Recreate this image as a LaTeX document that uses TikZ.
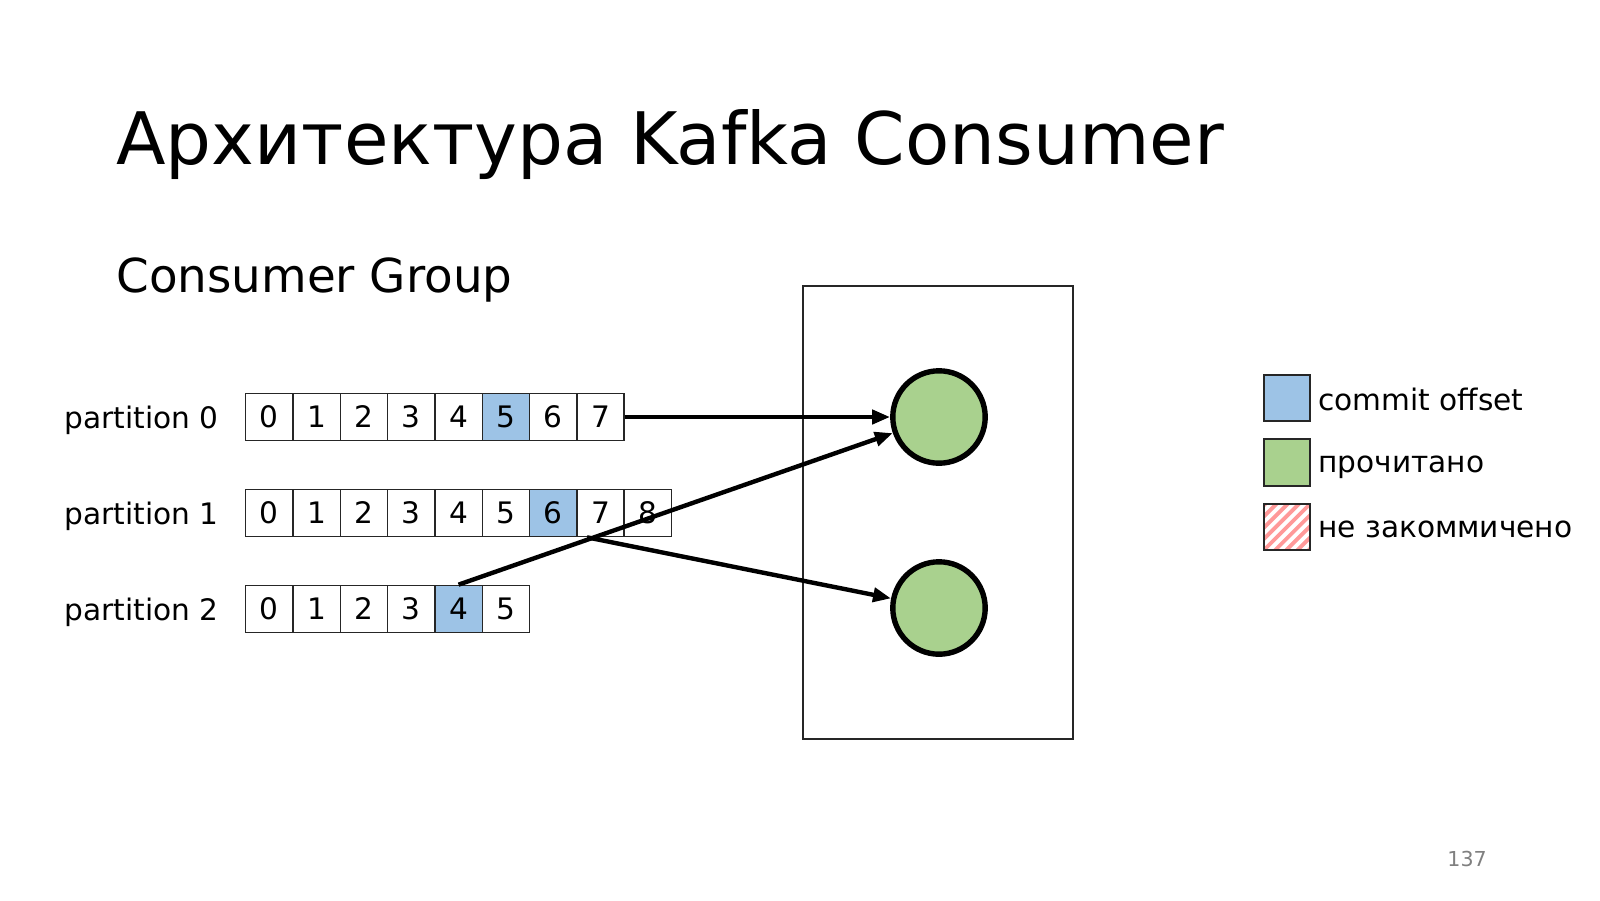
\documentclass[tikz,border=0pt]{standalone}
\usepackage{fontspec}
\setmainfont{DejaVu Sans}
\usetikzlibrary{arrows.meta}
\definecolor{commitblue}{HTML}{9DC3E6}
\definecolor{readgreen}{HTML}{A9D18E}
\definecolor{stripered}{HTML}{FF9999}
\begin{document}
\begin{tikzpicture}[x=.5pt,y=-.5pt,
 cell/.style={draw=black!85,line width=.7pt,minimum size=23.65pt,inner sep=0pt,font=\fontsize{14.8}{16}\selectfont},
 txt/.style={inner sep=0pt,font=\fontsize{14.8}{16}\selectfont},
 consumer/.style={circle,draw,line width=2.7pt,fill=readgreen,minimum size=46.2pt},
 key/.style={draw=black!85,line width=.9pt,minimum size=23.15pt,inner sep=0pt},
 stripes/.style={path picture={\foreach \d in {-5,...,5}
   \draw[stripered,line width=1.9pt] ([xshift=\d*5.6pt]path picture bounding box.south west)--++(30pt,30pt);}},
 link/.style={line width=2.2pt,-{Triangle[length=9pt,width=7pt]}}]
 \useasboundingbox (0,0) rectangle (1600,900);
 \node[anchor=base west,inner sep=0pt,font=\fontsize{36.2}{40}\selectfont] (title) at (116,164) {Архитектура Kafka Consumer};
 \node[anchor=base west,inner sep=0pt,font=\fontsize{23.4}{26}\selectfont] (subtitle) at (116,292) {Consumer Group};
 % <<< partitions
 \foreach \n/\k/\h/\y in {0/7/5/417,1/8/6/513,2/5/4/609}{
  \node[txt,anchor=base east] (lbl\n) at (219,\y+11) {partition \n};
  \foreach \i in {0,...,\k}{
   \pgfmathtruncatemacro\pct{(\i==\h)*100}
   \node[cell,fill=commitblue!\pct!white] (p\n-\i) at (269.35+47.3*\i,\y) {\i};
  }}
 % <<< consumer group
 \node[draw=black!85,line width=.8pt,minimum width=135pt,minimum height=226.5pt,inner sep=0pt] (group) at (938,512.5) {};
 \node[consumer] (c0) at (939,417) {};
 \node[consumer] (c1) at (939,608) {};
 \coordinate (split) at ([xshift=5.5pt]p1-7.south west);
 \draw[link] (p0-7.east)--(c0);
 \draw[link] (p2-4.north)--(c0);
 \draw[link] (split)--(c1);
 % <<< legend
 \node[key,fill=commitblue] (kcommit) at (1287,398) {};
 \node[txt,anchor=base west] (tcommit) at (1318,410) {commit offset};
 \node[key,fill=readgreen] (kread) at (1287,462.5) {};
 \node[txt,anchor=base west] (tread) at (1318,472) {прочитано};
 \node[key,stripes] (knocommit) at (1287,527) {};
 \node[txt,anchor=base west] (tnocommit) at (1318,537) {не закоммичено};
 \node[anchor=base west,inner sep=0pt,text=gray,font=\fontsize{10.3}{12}\selectfont] (page) at (1447,866) {137};
\end{tikzpicture}
\end{document}
